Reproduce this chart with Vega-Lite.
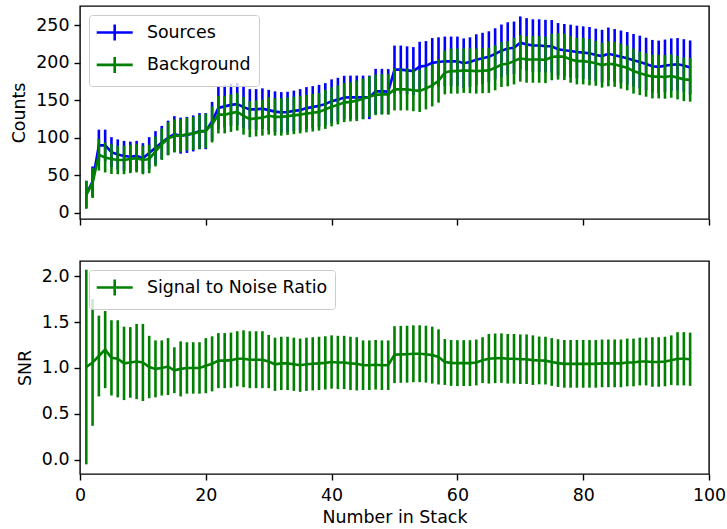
{
  "$schema": "https://vega.github.io/schema/vega-lite/v6.json",
  "padding": {"left": 10, "top": 5, "right": 5, "bottom": 0},
  "spacing": 33,
  "background": "#ffffff",
  "config": {
    "font": "DejaVu Sans",
    "view": {"stroke": "#000000", "strokeWidth": 1.4},
    "axis": {"domain": false, "grid": false, "tickColor": "#000000", "tickSize": 6, "tickWidth": 1.4, "labelFont": "DejaVu Sans", "labelFontSize": 17.4, "labelColor": "#000000", "labelPadding": 5, "titleFont": "DejaVu Sans", "titleFontSize": 17.4, "titleFontWeight": "normal", "titleColor": "#000000", "titlePadding": 7, "labelFlush": false, "labelOverlap": false},
    "axisX": {"labelPadding": 6, "titlePadding": 5},
    "legend": {"orient": "top-left", "offset": 8.7, "padding": 7.5, "fillColor": "rgba(255,255,255,0.8)", "strokeColor": "#cccccc", "cornerRadius": 3, "labelFont": "DejaVu Sans", "labelFontSize": 17.4, "labelColor": "#000000", "labelLimit": 500, "symbolType": "M-1.153,0H3.08M0.965,-0.94V0.94", "symbolSize": 289, "symbolStrokeWidth": 2.6, "symbolFillColor": "transparent", "labelOffset": 30.4, "rowPadding": 4.4, "title": null}
  },
  "datasets": {
    "counts": [
      {"x":1,"series":"Sources","v":25,"e":18},{"x":2,"series":"Sources","v":42,"e":20},{"x":3,"series":"Sources","v":90,"e":21},{"x":4,"series":"Sources","v":90,"e":21},{"x":5,"series":"Sources","v":81,"e":20},{"x":6,"series":"Sources","v":78,"e":20},{"x":7,"series":"Sources","v":76,"e":20},{"x":8,"series":"Sources","v":75,"e":20},{"x":9,"series":"Sources","v":76,"e":20},{"x":10,"series":"Sources","v":73,"e":20},
      {"x":11,"series":"Sources","v":80,"e":21},{"x":12,"series":"Sources","v":87,"e":22},{"x":13,"series":"Sources","v":94,"e":22},{"x":14,"series":"Sources","v":100,"e":23},{"x":15,"series":"Sources","v":105,"e":24},{"x":16,"series":"Sources","v":103,"e":24},{"x":17,"series":"Sources","v":104,"e":24},{"x":18,"series":"Sources","v":106,"e":24},{"x":19,"series":"Sources","v":109,"e":24},{"x":20,"series":"Sources","v":109,"e":24},
      {"x":21,"series":"Sources","v":122,"e":26},{"x":22,"series":"Sources","v":140,"e":28},{"x":23,"series":"Sources","v":142,"e":28},{"x":24,"series":"Sources","v":144,"e":28},{"x":25,"series":"Sources","v":145,"e":28},{"x":26,"series":"Sources","v":141,"e":28},{"x":27,"series":"Sources","v":138,"e":27},{"x":28,"series":"Sources","v":138,"e":27},{"x":29,"series":"Sources","v":139,"e":27},{"x":30,"series":"Sources","v":137,"e":27},
      {"x":31,"series":"Sources","v":135,"e":27},{"x":32,"series":"Sources","v":134,"e":27},{"x":33,"series":"Sources","v":134.5,"e":27},{"x":34,"series":"Sources","v":136,"e":27},{"x":35,"series":"Sources","v":137,"e":28},{"x":36,"series":"Sources","v":139.7,"e":28},{"x":37,"series":"Sources","v":141,"e":28},{"x":38,"series":"Sources","v":142.7,"e":28},{"x":39,"series":"Sources","v":145,"e":28},{"x":40,"series":"Sources","v":149,"e":29},
      {"x":41,"series":"Sources","v":151,"e":29},{"x":42,"series":"Sources","v":153.8,"e":29},{"x":43,"series":"Sources","v":154,"e":29},{"x":44,"series":"Sources","v":154,"e":29},{"x":45,"series":"Sources","v":154,"e":29},{"x":46,"series":"Sources","v":154,"e":29},{"x":47,"series":"Sources","v":162,"e":30},{"x":48,"series":"Sources","v":162,"e":30},{"x":49,"series":"Sources","v":161.7,"e":30},{"x":50,"series":"Sources","v":191,"e":32},
      {"x":51,"series":"Sources","v":191,"e":32},{"x":52,"series":"Sources","v":190,"e":32},{"x":53,"series":"Sources","v":189,"e":32},{"x":54,"series":"Sources","v":195,"e":33},{"x":55,"series":"Sources","v":196,"e":33},{"x":56,"series":"Sources","v":200,"e":33},{"x":57,"series":"Sources","v":201,"e":33},{"x":58,"series":"Sources","v":202,"e":33},{"x":59,"series":"Sources","v":202,"e":33},{"x":60,"series":"Sources","v":202,"e":33},
      {"x":61,"series":"Sources","v":199.5,"e":33},{"x":62,"series":"Sources","v":201,"e":33},{"x":63,"series":"Sources","v":204,"e":34},{"x":64,"series":"Sources","v":206,"e":34},{"x":65,"series":"Sources","v":208,"e":34},{"x":66,"series":"Sources","v":212,"e":34},{"x":67,"series":"Sources","v":216,"e":35},{"x":68,"series":"Sources","v":219,"e":35},{"x":69,"series":"Sources","v":220,"e":35},{"x":70,"series":"Sources","v":226.8,"e":35},
      {"x":71,"series":"Sources","v":224.6,"e":35},{"x":72,"series":"Sources","v":223,"e":35},{"x":73,"series":"Sources","v":223,"e":35},{"x":74,"series":"Sources","v":222.3,"e":35},{"x":75,"series":"Sources","v":222,"e":35},{"x":76,"series":"Sources","v":218,"e":35},{"x":77,"series":"Sources","v":216.7,"e":35},{"x":78,"series":"Sources","v":215.8,"e":35},{"x":79,"series":"Sources","v":214.5,"e":35},{"x":80,"series":"Sources","v":213.6,"e":35},
      {"x":81,"series":"Sources","v":212.7,"e":35},{"x":82,"series":"Sources","v":210.5,"e":35},{"x":83,"series":"Sources","v":209,"e":35},{"x":84,"series":"Sources","v":212,"e":35},{"x":85,"series":"Sources","v":210,"e":35},{"x":86,"series":"Sources","v":208,"e":35},{"x":87,"series":"Sources","v":206,"e":35},{"x":88,"series":"Sources","v":203.4,"e":35},{"x":89,"series":"Sources","v":201.2,"e":35},{"x":90,"series":"Sources","v":198.5,"e":35},
      {"x":91,"series":"Sources","v":195.5,"e":35},{"x":92,"series":"Sources","v":194.6,"e":35},{"x":93,"series":"Sources","v":196,"e":35},{"x":94,"series":"Sources","v":197.5,"e":35},{"x":95,"series":"Sources","v":198,"e":35},{"x":96,"series":"Sources","v":196.5,"e":35},{"x":97,"series":"Sources","v":193.8,"e":36},
      {"x":1,"series":"Background","v":24,"e":18.5},{"x":2,"series":"Background","v":40,"e":20},{"x":3,"series":"Background","v":77.5,"e":21},{"x":4,"series":"Background","v":74,"e":20},{"x":5,"series":"Background","v":72,"e":20},{"x":6,"series":"Background","v":70.6,"e":19},{"x":7,"series":"Background","v":70.6,"e":19},{"x":8,"series":"Background","v":72,"e":19},{"x":9,"series":"Background","v":73,"e":19},{"x":10,"series":"Background","v":70.6,"e":19},
      {"x":11,"series":"Background","v":72,"e":19},{"x":12,"series":"Background","v":82,"e":20},{"x":13,"series":"Background","v":91.7,"e":21},{"x":14,"series":"Background","v":99,"e":22},{"x":15,"series":"Background","v":102.8,"e":22},{"x":16,"series":"Background","v":103,"e":22},{"x":17,"series":"Background","v":105,"e":22},{"x":18,"series":"Background","v":106,"e":22},{"x":19,"series":"Background","v":108,"e":23},{"x":20,"series":"Background","v":109.4,"e":23},
      {"x":21,"series":"Background","v":118,"e":24},{"x":22,"series":"Background","v":131,"e":25},{"x":23,"series":"Background","v":131,"e":25},{"x":24,"series":"Background","v":133,"e":25},{"x":25,"series":"Background","v":134.7,"e":25},{"x":26,"series":"Background","v":129.4,"e":25},{"x":27,"series":"Background","v":125,"e":24},{"x":28,"series":"Background","v":126,"e":24},{"x":29,"series":"Background","v":127,"e":24},{"x":30,"series":"Background","v":129.4,"e":25},
      {"x":31,"series":"Background","v":128,"e":25},{"x":32,"series":"Background","v":128,"e":25},{"x":33,"series":"Background","v":129,"e":25},{"x":34,"series":"Background","v":130,"e":25},{"x":35,"series":"Background","v":131,"e":25},{"x":36,"series":"Background","v":132.4,"e":25},{"x":37,"series":"Background","v":133.5,"e":25},{"x":38,"series":"Background","v":134.7,"e":25},{"x":39,"series":"Background","v":138,"e":26},{"x":40,"series":"Background","v":141.4,"e":26},
      {"x":41,"series":"Background","v":144,"e":26},{"x":42,"series":"Background","v":147,"e":26},{"x":43,"series":"Background","v":148,"e":26},{"x":44,"series":"Background","v":149.4,"e":27},{"x":45,"series":"Background","v":152,"e":27},{"x":46,"series":"Background","v":155,"e":27},{"x":47,"series":"Background","v":157.3,"e":27},{"x":48,"series":"Background","v":158,"e":27},{"x":49,"series":"Background","v":158,"e":27},{"x":50,"series":"Background","v":164.6,"e":28},
      {"x":51,"series":"Background","v":164.6,"e":28},{"x":52,"series":"Background","v":164.6,"e":28},{"x":53,"series":"Background","v":163.5,"e":28},{"x":54,"series":"Background","v":162.6,"e":28},{"x":55,"series":"Background","v":166,"e":28},{"x":56,"series":"Background","v":170,"e":28},{"x":57,"series":"Background","v":176,"e":29},{"x":58,"series":"Background","v":187,"e":29},{"x":59,"series":"Background","v":189,"e":30},{"x":60,"series":"Background","v":189,"e":30},
      {"x":61,"series":"Background","v":190,"e":30},{"x":62,"series":"Background","v":189.5,"e":30},{"x":63,"series":"Background","v":189,"e":30},{"x":64,"series":"Background","v":189.5,"e":30},{"x":65,"series":"Background","v":190,"e":30},{"x":66,"series":"Background","v":193.4,"e":30},{"x":67,"series":"Background","v":197.8,"e":30},{"x":68,"series":"Background","v":198.7,"e":30},{"x":69,"series":"Background","v":202.3,"e":31},{"x":70,"series":"Background","v":206,"e":31},
      {"x":71,"series":"Background","v":204.5,"e":31},{"x":72,"series":"Background","v":204.5,"e":31},{"x":73,"series":"Background","v":204.5,"e":31},{"x":74,"series":"Background","v":204,"e":31},{"x":75,"series":"Background","v":207.8,"e":31},{"x":76,"series":"Background","v":208.6,"e":31},{"x":77,"series":"Background","v":208,"e":31},{"x":78,"series":"Background","v":204.5,"e":31},{"x":79,"series":"Background","v":202.3,"e":31},{"x":80,"series":"Background","v":202.3,"e":31},
      {"x":81,"series":"Background","v":201,"e":31},{"x":82,"series":"Background","v":199.4,"e":30},{"x":83,"series":"Background","v":197,"e":30},{"x":84,"series":"Background","v":198.7,"e":30},{"x":85,"series":"Background","v":198,"e":30},{"x":86,"series":"Background","v":195.6,"e":30},{"x":87,"series":"Background","v":193.4,"e":30},{"x":88,"series":"Background","v":189,"e":30},{"x":89,"series":"Background","v":186,"e":29},{"x":90,"series":"Background","v":183.9,"e":29},
      {"x":91,"series":"Background","v":181.6,"e":29},{"x":92,"series":"Background","v":181.6,"e":29},{"x":93,"series":"Background","v":181.2,"e":29},{"x":94,"series":"Background","v":182.5,"e":29},{"x":95,"series":"Background","v":180.3,"e":29},{"x":96,"series":"Background","v":178,"e":29},{"x":97,"series":"Background","v":177.3,"e":29}
    ],
    "snr": [
      {"x":1,"series":"Signal to Noise Ratio","v":1.01,"e":1.06},{"x":2,"series":"Signal to Noise Ratio","v":1.06,"e":0.69},{"x":3,"series":"Signal to Noise Ratio","v":1.13,"e":0.44},{"x":4,"series":"Signal to Noise Ratio","v":1.2,"e":0.42},{"x":5,"series":"Signal to Noise Ratio","v":1.11,"e":0.41},{"x":6,"series":"Signal to Noise Ratio","v":1.1,"e":0.42},{"x":7,"series":"Signal to Noise Ratio","v":1.05,"e":0.4},{"x":8,"series":"Signal to Noise Ratio","v":1.06,"e":0.385},{"x":9,"series":"Signal to Noise Ratio","v":1.07,"e":0.41},{"x":10,"series":"Signal to Noise Ratio","v":1.06,"e":0.42},
      {"x":11,"series":"Signal to Noise Ratio","v":1.01,"e":0.34},{"x":12,"series":"Signal to Noise Ratio","v":0.99,"e":0.31},{"x":13,"series":"Signal to Noise Ratio","v":1.0,"e":0.3},{"x":14,"series":"Signal to Noise Ratio","v":1.015,"e":0.31},{"x":15,"series":"Signal to Noise Ratio","v":0.975,"e":0.25},{"x":16,"series":"Signal to Noise Ratio","v":0.99,"e":0.3},{"x":17,"series":"Signal to Noise Ratio","v":1.0,"e":0.28},{"x":18,"series":"Signal to Noise Ratio","v":1.0,"e":0.28},{"x":19,"series":"Signal to Noise Ratio","v":1.0,"e":0.28},{"x":20,"series":"Signal to Noise Ratio","v":1.025,"e":0.3},
      {"x":21,"series":"Signal to Noise Ratio","v":1.045,"e":0.3},{"x":22,"series":"Signal to Noise Ratio","v":1.08,"e":0.3},{"x":23,"series":"Signal to Noise Ratio","v":1.08,"e":0.3},{"x":24,"series":"Signal to Noise Ratio","v":1.085,"e":0.3},{"x":25,"series":"Signal to Noise Ratio","v":1.1,"e":0.3},{"x":26,"series":"Signal to Noise Ratio","v":1.1,"e":0.31},{"x":27,"series":"Signal to Noise Ratio","v":1.09,"e":0.31},{"x":28,"series":"Signal to Noise Ratio","v":1.09,"e":0.31},{"x":29,"series":"Signal to Noise Ratio","v":1.09,"e":0.31},{"x":30,"series":"Signal to Noise Ratio","v":1.07,"e":0.29},
      {"x":31,"series":"Signal to Noise Ratio","v":1.04,"e":0.29},{"x":32,"series":"Signal to Noise Ratio","v":1.05,"e":0.29},{"x":33,"series":"Signal to Noise Ratio","v":1.05,"e":0.29},{"x":34,"series":"Signal to Noise Ratio","v":1.04,"e":0.29},{"x":35,"series":"Signal to Noise Ratio","v":1.03,"e":0.29},{"x":36,"series":"Signal to Noise Ratio","v":1.04,"e":0.29},{"x":37,"series":"Signal to Noise Ratio","v":1.045,"e":0.29},{"x":38,"series":"Signal to Noise Ratio","v":1.05,"e":0.29},{"x":39,"series":"Signal to Noise Ratio","v":1.055,"e":0.29},{"x":40,"series":"Signal to Noise Ratio","v":1.065,"e":0.29},
      {"x":41,"series":"Signal to Noise Ratio","v":1.06,"e":0.29},{"x":42,"series":"Signal to Noise Ratio","v":1.06,"e":0.29},{"x":43,"series":"Signal to Noise Ratio","v":1.05,"e":0.29},{"x":44,"series":"Signal to Noise Ratio","v":1.045,"e":0.29},{"x":45,"series":"Signal to Noise Ratio","v":1.03,"e":0.27},{"x":46,"series":"Signal to Noise Ratio","v":1.03,"e":0.27},{"x":47,"series":"Signal to Noise Ratio","v":1.035,"e":0.27},{"x":48,"series":"Signal to Noise Ratio","v":1.03,"e":0.27},{"x":49,"series":"Signal to Noise Ratio","v":1.03,"e":0.27},{"x":50,"series":"Signal to Noise Ratio","v":1.145,"e":0.31},
      {"x":51,"series":"Signal to Noise Ratio","v":1.148,"e":0.31},{"x":52,"series":"Signal to Noise Ratio","v":1.15,"e":0.31},{"x":53,"series":"Signal to Noise Ratio","v":1.155,"e":0.31},{"x":54,"series":"Signal to Noise Ratio","v":1.155,"e":0.31},{"x":55,"series":"Signal to Noise Ratio","v":1.15,"e":0.31},{"x":56,"series":"Signal to Noise Ratio","v":1.14,"e":0.31},{"x":57,"series":"Signal to Noise Ratio","v":1.12,"e":0.3},{"x":58,"series":"Signal to Noise Ratio","v":1.065,"e":0.25},{"x":59,"series":"Signal to Noise Ratio","v":1.055,"e":0.25},{"x":60,"series":"Signal to Noise Ratio","v":1.053,"e":0.25},
      {"x":61,"series":"Signal to Noise Ratio","v":1.053,"e":0.25},{"x":62,"series":"Signal to Noise Ratio","v":1.053,"e":0.25},{"x":63,"series":"Signal to Noise Ratio","v":1.06,"e":0.25},{"x":64,"series":"Signal to Noise Ratio","v":1.085,"e":0.25},{"x":65,"series":"Signal to Noise Ratio","v":1.1,"e":0.27},{"x":66,"series":"Signal to Noise Ratio","v":1.105,"e":0.27},{"x":67,"series":"Signal to Noise Ratio","v":1.107,"e":0.27},{"x":68,"series":"Signal to Noise Ratio","v":1.1,"e":0.27},{"x":69,"series":"Signal to Noise Ratio","v":1.1,"e":0.27},{"x":70,"series":"Signal to Noise Ratio","v":1.095,"e":0.27},
      {"x":71,"series":"Signal to Noise Ratio","v":1.095,"e":0.27},{"x":72,"series":"Signal to Noise Ratio","v":1.085,"e":0.27},{"x":73,"series":"Signal to Noise Ratio","v":1.082,"e":0.26},{"x":74,"series":"Signal to Noise Ratio","v":1.08,"e":0.26},{"x":75,"series":"Signal to Noise Ratio","v":1.065,"e":0.26},{"x":76,"series":"Signal to Noise Ratio","v":1.053,"e":0.26},{"x":77,"series":"Signal to Noise Ratio","v":1.045,"e":0.26},{"x":78,"series":"Signal to Noise Ratio","v":1.045,"e":0.26},{"x":79,"series":"Signal to Noise Ratio","v":1.045,"e":0.26},{"x":80,"series":"Signal to Noise Ratio","v":1.045,"e":0.26},
      {"x":81,"series":"Signal to Noise Ratio","v":1.045,"e":0.26},{"x":82,"series":"Signal to Noise Ratio","v":1.045,"e":0.26},{"x":83,"series":"Signal to Noise Ratio","v":1.05,"e":0.26},{"x":84,"series":"Signal to Noise Ratio","v":1.05,"e":0.26},{"x":85,"series":"Signal to Noise Ratio","v":1.05,"e":0.26},{"x":86,"series":"Signal to Noise Ratio","v":1.05,"e":0.26},{"x":87,"series":"Signal to Noise Ratio","v":1.06,"e":0.26},{"x":88,"series":"Signal to Noise Ratio","v":1.06,"e":0.26},{"x":89,"series":"Signal to Noise Ratio","v":1.07,"e":0.26},{"x":90,"series":"Signal to Noise Ratio","v":1.07,"e":0.26},
      {"x":91,"series":"Signal to Noise Ratio","v":1.065,"e":0.27},{"x":92,"series":"Signal to Noise Ratio","v":1.065,"e":0.27},{"x":93,"series":"Signal to Noise Ratio","v":1.07,"e":0.27},{"x":94,"series":"Signal to Noise Ratio","v":1.085,"e":0.27},{"x":95,"series":"Signal to Noise Ratio","v":1.1,"e":0.29},{"x":96,"series":"Signal to Noise Ratio","v":1.1,"e":0.29},{"x":97,"series":"Signal to Noise Ratio","v":1.095,"e":0.29}
    ]
  },
  "resolve": {"scale": {"color": "independent"}, "legend": {"color": "independent"}},
  "vconcat": [
    {
      "width": 629,
      "height": 213,
      "data": {"name": "counts"},
      "encoding": {
        "x": {"field": "x", "type": "quantitative", "scale": {"domain": [0, 100], "nice": false, "zero": false}, "axis": {"values": [0, 20, 40, 60, 80, 100], "labels": false, "title": null}},
        "color": {"field": "series", "type": "nominal", "scale": {"domain": ["Sources", "Background"], "range": ["#0000ff", "#008000"]}, "legend": {"title": null}}
      },
      "layer": [
        {"transform": [{"filter": "datum.series === 'Sources'"}], "mark": {"type": "errorbar", "thickness": 2.6, "rule": {"strokeWidth": 2.6}}, "encoding": {"y": {"field": "v", "type": "quantitative", "scale": {"domain": [-8, 275.7], "nice": false, "zero": false}, "axis": {"values": [0, 50, 100, 150, 200, 250], "title": "Counts"}}, "yError": {"field": "e"}}},
        {"transform": [{"filter": "datum.series === 'Sources'"}], "mark": {"type": "line", "strokeWidth": 2.6}, "encoding": {"y": {"field": "v", "type": "quantitative", "title": "Counts"}}},
        {"transform": [{"filter": "datum.series === 'Background'"}], "mark": {"type": "errorbar", "thickness": 2.6, "rule": {"strokeWidth": 2.6}}, "encoding": {"y": {"field": "v", "type": "quantitative", "title": "Counts"}, "yError": {"field": "e"}}},
        {"transform": [{"filter": "datum.series === 'Background'"}], "mark": {"type": "line", "strokeWidth": 2.6}, "encoding": {"y": {"field": "v", "type": "quantitative", "title": "Counts"}}}
      ]
    },
    {
      "width": 629,
      "height": 213,
      "data": {"name": "snr"},
      "encoding": {
        "x": {"field": "x", "type": "quantitative", "scale": {"domain": [0, 100], "nice": false, "zero": false}, "axis": {"values": [0, 20, 40, 60, 80, 100], "title": "Number in Stack"}},
        "color": {"field": "series", "type": "nominal", "scale": {"domain": ["Signal to Noise Ratio"], "range": ["#008000"]}, "legend": {"title": null}}
      },
      "layer": [
        {"mark": {"type": "errorbar", "thickness": 2.6, "rule": {"strokeWidth": 2.6}}, "encoding": {"y": {"field": "v", "type": "quantitative", "scale": {"domain": [-0.155, 2.165], "nice": false, "zero": false}, "axis": {"values": [0, 0.5, 1, 1.5, 2], "format": ".1f", "title": "SNR"}}, "yError": {"field": "e"}}},
        {"mark": {"type": "line", "strokeWidth": 2.6}, "encoding": {"y": {"field": "v", "type": "quantitative", "title": "SNR"}}}
      ]
    }
  ]
}
